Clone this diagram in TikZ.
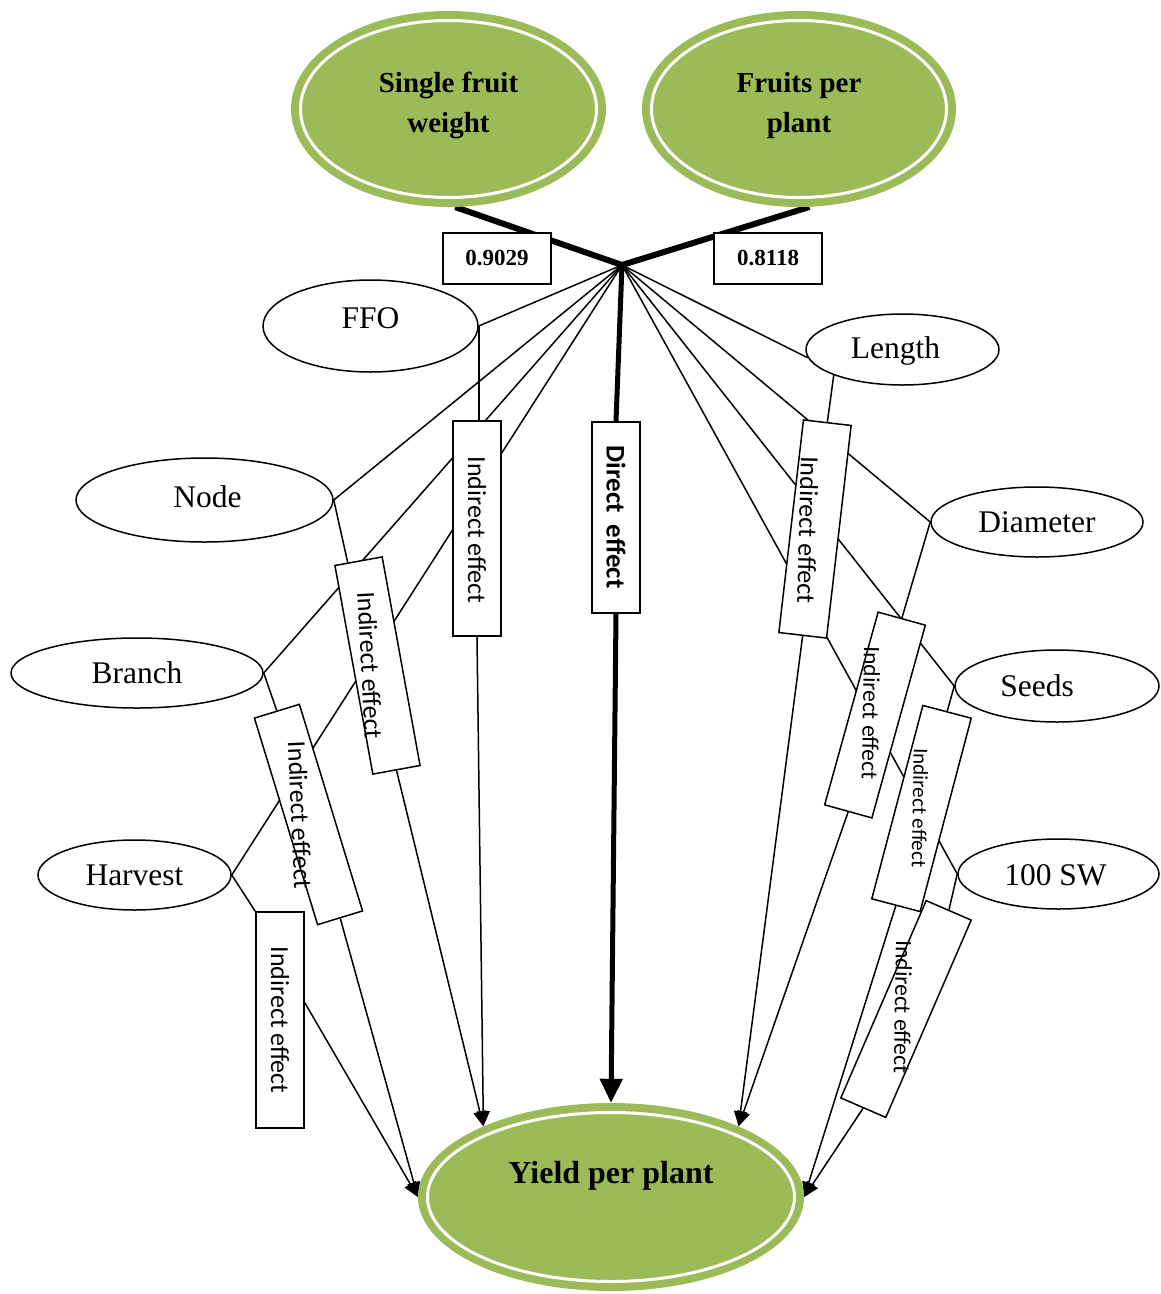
\documentclass[tikz,border=0pt]{standalone}
\usepackage{fontspec}
\setmainfont{Liberation Serif}
\newfontfamily\carl{Carlito}
\usetikzlibrary{arrows.meta,calc,shapes.geometric,backgrounds}
\definecolor{leafgreen}{HTML}{9BBB59}
\begin{document}
\begin{tikzpicture}[x=1pt,y=-1pt,
  greenell/.style={ellipse, fill=leafgreen, inner sep=0pt},
  titletxt/.style={inner sep=0pt, align=center, font=\fontsize{29}{40}\selectfont\bfseries},
  trait/.style={ellipse, draw, line width=1.5pt, fill=white, inner sep=0pt},
  traittxt/.style={inner sep=0pt, font=\fontsize{31.5}{36}\selectfont},
  ebox/.style={rectangle, draw, line width=1.5pt, fill=white, inner sep=0pt},
  elbl/.style={inner sep=0pt, font=\carl\fontsize{26}{30}\selectfont},
  val/.style={rectangle, draw, line width=1.5pt, fill=white, minimum width=108pt,
    minimum height=51pt, inner sep=0pt, font=\fontsize{23}{28}\selectfont\bfseries},
  conn/.style={line width=1.5pt},
  arr/.style={conn, -{Triangle[length=15pt,width=13pt]}},
  ring/.style={white, line width=3pt}]
\useasboundingbox (0,0) rectangle (1161,1294);

% green ellipses
\node[greenell, minimum width=315pt, minimum height=196pt,
  label={[titletxt, name=sfwT, yshift=4pt]center:Single fruit\\weight}] (sfw) at (448.5,109) {};
\node[greenell, minimum width=314pt, minimum height=196pt,
  label={[titletxt, name=fppT, yshift=3pt]center:Fruits per\\plant}] (fpp) at (799,109) {};
\node[greenell, minimum width=386pt, minimum height=188pt] (yield) at (611,1197) {};
\draw[ring] (sfw.center) ellipse [x radius=148pt, y radius=88.5pt];
\draw[ring] (fpp.center) ellipse [x radius=147.5pt, y radius=88.5pt];
\draw[ring] (yield.center) ellipse [x radius=183.5pt, y radius=84.5pt];
\node[inner sep=0pt, font=\fontsize{32}{36}\selectfont\bfseries] (ylbl) at (611,1176) {Yield per plant};

% trait ellipses
\node[trait, minimum width=215pt, minimum height=92pt,
  label={[traittxt, name=ffoT, yshift=8pt]center:FFO}] (ffo) at (370.5,326) {};
\node[trait, minimum width=257pt, minimum height=84pt,
  label={[traittxt, name=ndT, xshift=3pt, yshift=3pt]center:Node}] (nd) at (204.5,500) {};
\node[trait, minimum width=252pt, minimum height=70pt,
  label={[traittxt, name=brT]center:Branch}] (br) at (137,673) {};
\node[trait, minimum width=193pt, minimum height=70pt,
  label={[traittxt, name=hvT]center:Harvest}] (hv) at (134.5,875) {};
\node[trait, minimum width=193pt, minimum height=71pt,
  label={[traittxt, name=lenT, xshift=-7pt, yshift=-1pt]center:Length}] (len) at (902.5,349.5) {};
\node[trait, minimum width=212pt, minimum height=70pt,
  label={[traittxt, name=diaT]center:Diameter}] (dia) at (1037,522) {};
\node[trait, minimum width=204pt, minimum height=72pt,
  label={[traittxt, name=sdT, xshift=-20pt]center:Seeds}] (sd) at (1057,686) {};
\node[trait, minimum width=201pt, minimum height=70pt,
  label={[traittxt, name=swT, xshift=-3pt, yshift=-1pt]center:100 SW}] (sw) at (1058.5,874) {};

% hub
\coordinate (hub) at (622,265);

% value boxes
\node[val] (v1) at (497,258.5) {0.9029};
\node[val] (v2) at (768,258.5) {0.8118};

% effect boxes
\node[ebox, minimum width=215pt, minimum height=48pt, rotate=-90] (bA) at (477,528.5) {};
\node[ebox, minimum width=191pt, minimum height=48pt, rotate=-90] (bD) at (616,517.5) {};
\node[ebox, minimum width=212pt, minimum height=48pt, rotate=-79.7] (bN) at (377.5,665.5) {};
\node[ebox, minimum width=216pt, minimum height=47pt, rotate=-73] (bB) at (308.5,814.5) {};
\node[ebox, minimum width=216pt, minimum height=48pt, rotate=-90] (bH) at (280,1020) {};
\node[ebox, minimum width=214pt, minimum height=48pt, rotate=-96.6] (bL) at (815,529) {};
\node[ebox, minimum width=200pt, minimum height=49pt, rotate=-105.5] (bDm) at (875,715) {};
\node[ebox, minimum width=200pt, minimum height=50pt, rotate=-104.8] (bS) at (921.5,808.5) {};
\node[ebox, minimum width=215pt, minimum height=49pt, rotate=-113.4] (bW) at (906,1009) {};

% box labels
\node[elbl, rotate=-90] (tA) at (477,530) {Indirect effect};
\node[elbl, rotate=-90, font=\carl\bfseries\fontsize{27}{30}\selectfont] (tD) at (616,517) {Direct\ \ effect};
\node[elbl, rotate=-87] (tN) at (370,665) {Indirect effect};
\node[elbl, rotate=-87.5] (tB) at (300,815) {Indirect effect};
\node[elbl, rotate=-90] (tH) at (280,1020) {Indirect effect};
\node[elbl, rotate=-91.5] (tL) at (808,530) {Indirect effect};
\node[elbl, rotate=-91, font=\carl\fontsize{23.5}{28}\selectfont] (tDm) at (871,713) {Indirect effect};
\node[elbl, rotate=-91, font=\carl\fontsize{21}{25}\selectfont] (tS) at (920,808) {Indirect effect};
\node[elbl, rotate=-91, font=\carl\fontsize{23.5}{28}\selectfont] (tW) at (903,1007) {Indirect effect};

\begin{pgfonlayer}{background}
  % thick lines
  \draw[line width=6pt, line join=miter] (sfw.-86) -- (hub) -- (fpp.-84);
  \draw[line width=5pt] (hub) -- (bD.west);
  \draw[line width=5pt, -{Triangle[length=24pt,width=22pt]}] (bD.east) -- (yield.north);
  % hub fan
  \draw[conn] (hub) -- (ffo.east);
  \draw[conn] (hub) -- (nd.east);
  \draw[conn] (hub) -- (br.east);
  \draw[conn] (hub) -- (hv.east);
  \draw[conn] (hub) -- (len.185);
  \draw[conn] (hub) -- (dia.west);
  \draw[conn] (hub) -- (sd.west);
  \draw[conn] (hub) -- (sw.west);
  % traits to boxes
  \draw[conn] (ffo.east) -- (ffo.east |- bA.west);
  \draw[conn] (nd.east) -- ($(bN.south west)!0.28!(bN.north west)$);
  \draw[conn] (br.east) -- (bB.west);
  \draw[conn] (hv.east) -- (bH.south west);
  \draw[conn] (len.south west) -- (bL.west);
  \draw[conn] (dia.west) -- (bDm.west);
  \draw[conn] (sd.west) -- (bS.west);
  \draw[conn] (sw.west) -- (bW.west);
  % boxes to yield
  \draw[arr] (bA.east) -- (yield.151);
  \draw[arr] (bN.east) -- (yield.151);
  \draw[arr] (bB.east) -- (yield.west);
  \draw[arr] ($(bH.north west)!0.42!(bH.north east)$) -- (yield.west);
  \draw[arr] (bL.east) -- (yield.29);
  \draw[arr] (bDm.east) -- (yield.29);
  \draw[arr] (bS.east) -- (yield.east);
  \draw[arr] (bW.east) -- (yield.east);
\end{pgfonlayer}
\end{tikzpicture}
\end{document}
